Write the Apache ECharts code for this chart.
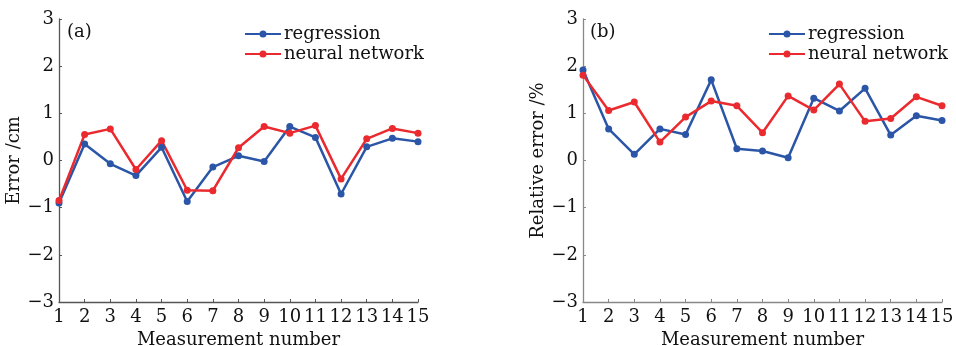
<!DOCTYPE html>
<html>
<head>
<meta charset="utf-8">
<script src="https://cdn.jsdelivr.net/npm/echarts@6/dist/echarts.min.js"></script>
<style>html,body{margin:0;padding:0;background:#fff;}#c{width:956px;height:346px;}</style>
</head>
<body>
<div id="c"></div>
<script>
const measurements = [1,2,3,4,5,6,7,8,9,10,11,12,13,14,15];
const yTicks = [-3,-2,-1,0,1,2,3];
const errRegression = [-0.9,0.35,-0.07,-0.32,0.28,-0.87,-0.14,0.10,-0.02,0.72,0.49,-0.71,0.29,0.47,0.40];
const errNeural = [-0.85,0.55,0.67,-0.19,0.42,-0.63,-0.64,0.27,0.72,0.58,0.74,-0.39,0.46,0.68,0.58];
const relRegression = [1.92,0.67,0.13,0.67,0.55,1.71,0.25,0.20,0.06,1.32,1.05,1.53,0.54,0.95,0.85];
const relNeural = [1.81,1.06,1.24,0.39,0.92,1.26,1.16,0.59,1.37,1.07,1.62,0.83,0.89,1.35,1.16];

const FONT = 'DejaVu Serif';
const BLUE = '#2b55a6';
const RED = '#ea2a2e';
const pairs = arr => arr.map((v,i)=>[measurements[i], v]);

function xAxis(gi, axisColor){
  return {
    type:'value', gridIndex:gi, min:measurements[0], max:measurements[measurements.length-1], interval:1,
    name:'Measurement number', nameLocation:'middle', nameGap:28,
    nameTextStyle:{fontFamily:FONT,fontSize:18,color:'#111'},
    axisLine:{show:true,onZero:false,lineStyle:{color:axisColor,width:1.3}},
    axisTick:{show:true,inside:true,length:3,lineStyle:{color:axisColor}},
    axisLabel:{fontFamily:FONT,fontSize:18,color:'#111',margin:6},
    splitLine:{show:false}
  };
}
function yAxis(gi, name, axisColor, gap){
  return {
    type:'value', gridIndex:gi, min:yTicks[0], max:yTicks[yTicks.length-1], interval:1,
    name:name, nameLocation:'middle', nameGap:gap,
    nameTextStyle:{fontFamily:FONT,fontSize:18,color:'#111'},
    axisLine:{show:true,onZero:false,lineStyle:{color:axisColor,width:1.3}},
    axisTick:{show:true,inside:true,length:3,lineStyle:{color:axisColor}},
    axisLabel:{fontFamily:FONT,fontSize:18,color:'#111',margin:5,
      formatter:v=> v<0 ? '\u2212'+Math.abs(v) : String(v)},
    splitLine:{show:false}
  };
}
function series(name, data, color, xi){
  return {
    type:'line', name:name, data:pairs(data), xAxisIndex:xi, yAxisIndex:xi,
    symbol:'circle', symbolSize:7, showSymbol:true,
    lineStyle:{color:color,width:2.5}, itemStyle:{color:color},
    animation:false
  };
}
const ICON = 'path://M0,2.9H36V5.1H0Z M21.5,4A3.5,3.5 0 1,1 14.5,4A3.5,3.5 0 1,1 21.5,4Z';
function legend(left){
  return {
    left:left, top:20, orient:'vertical', itemGap:2, itemWidth:36, itemHeight:8,
    icon:ICON,
    data:[{name:'regression',itemStyle:{color:BLUE}},{name:'neural network',itemStyle:{color:RED}}],
    textStyle:{fontFamily:FONT,fontSize:18,color:'#111',padding:[0,0,0,-2]},
    selectedMode:false
  };
}

const chart = echarts.init(document.getElementById('c'));
chart.setOption({
  backgroundColor:'#fff',
  animation:false,
  grid:[
    {left:59, top:19, width:359, height:283, containLabel:false, outerBoundsMode:'none'},
    {left:583, top:19, width:359, height:283, containLabel:false, outerBoundsMode:'none'}
  ],
  xAxis:[xAxis(0,'#555'), xAxis(1,'#888')],
  yAxis:[yAxis(0,'Error /cm','#555',35), yAxis(1,'Relative error /%','#888',35)],
  legend:[legend(240), legend(764)],
  graphic:[
    {type:'text', left:67, top:23, style:{text:'(a)', font:'18px "DejaVu Serif"', fill:'#111'}},
    {type:'text', left:590, top:23, style:{text:'(b)', font:'18px "DejaVu Serif"', fill:'#111'}}
  ],
  series:[
    series('regression', errRegression, BLUE, 0),
    series('neural network', errNeural, RED, 0),
    series('regression', relRegression, BLUE, 1),
    series('neural network', relNeural, RED, 1)
  ]
});
</script>
</body>
</html>
